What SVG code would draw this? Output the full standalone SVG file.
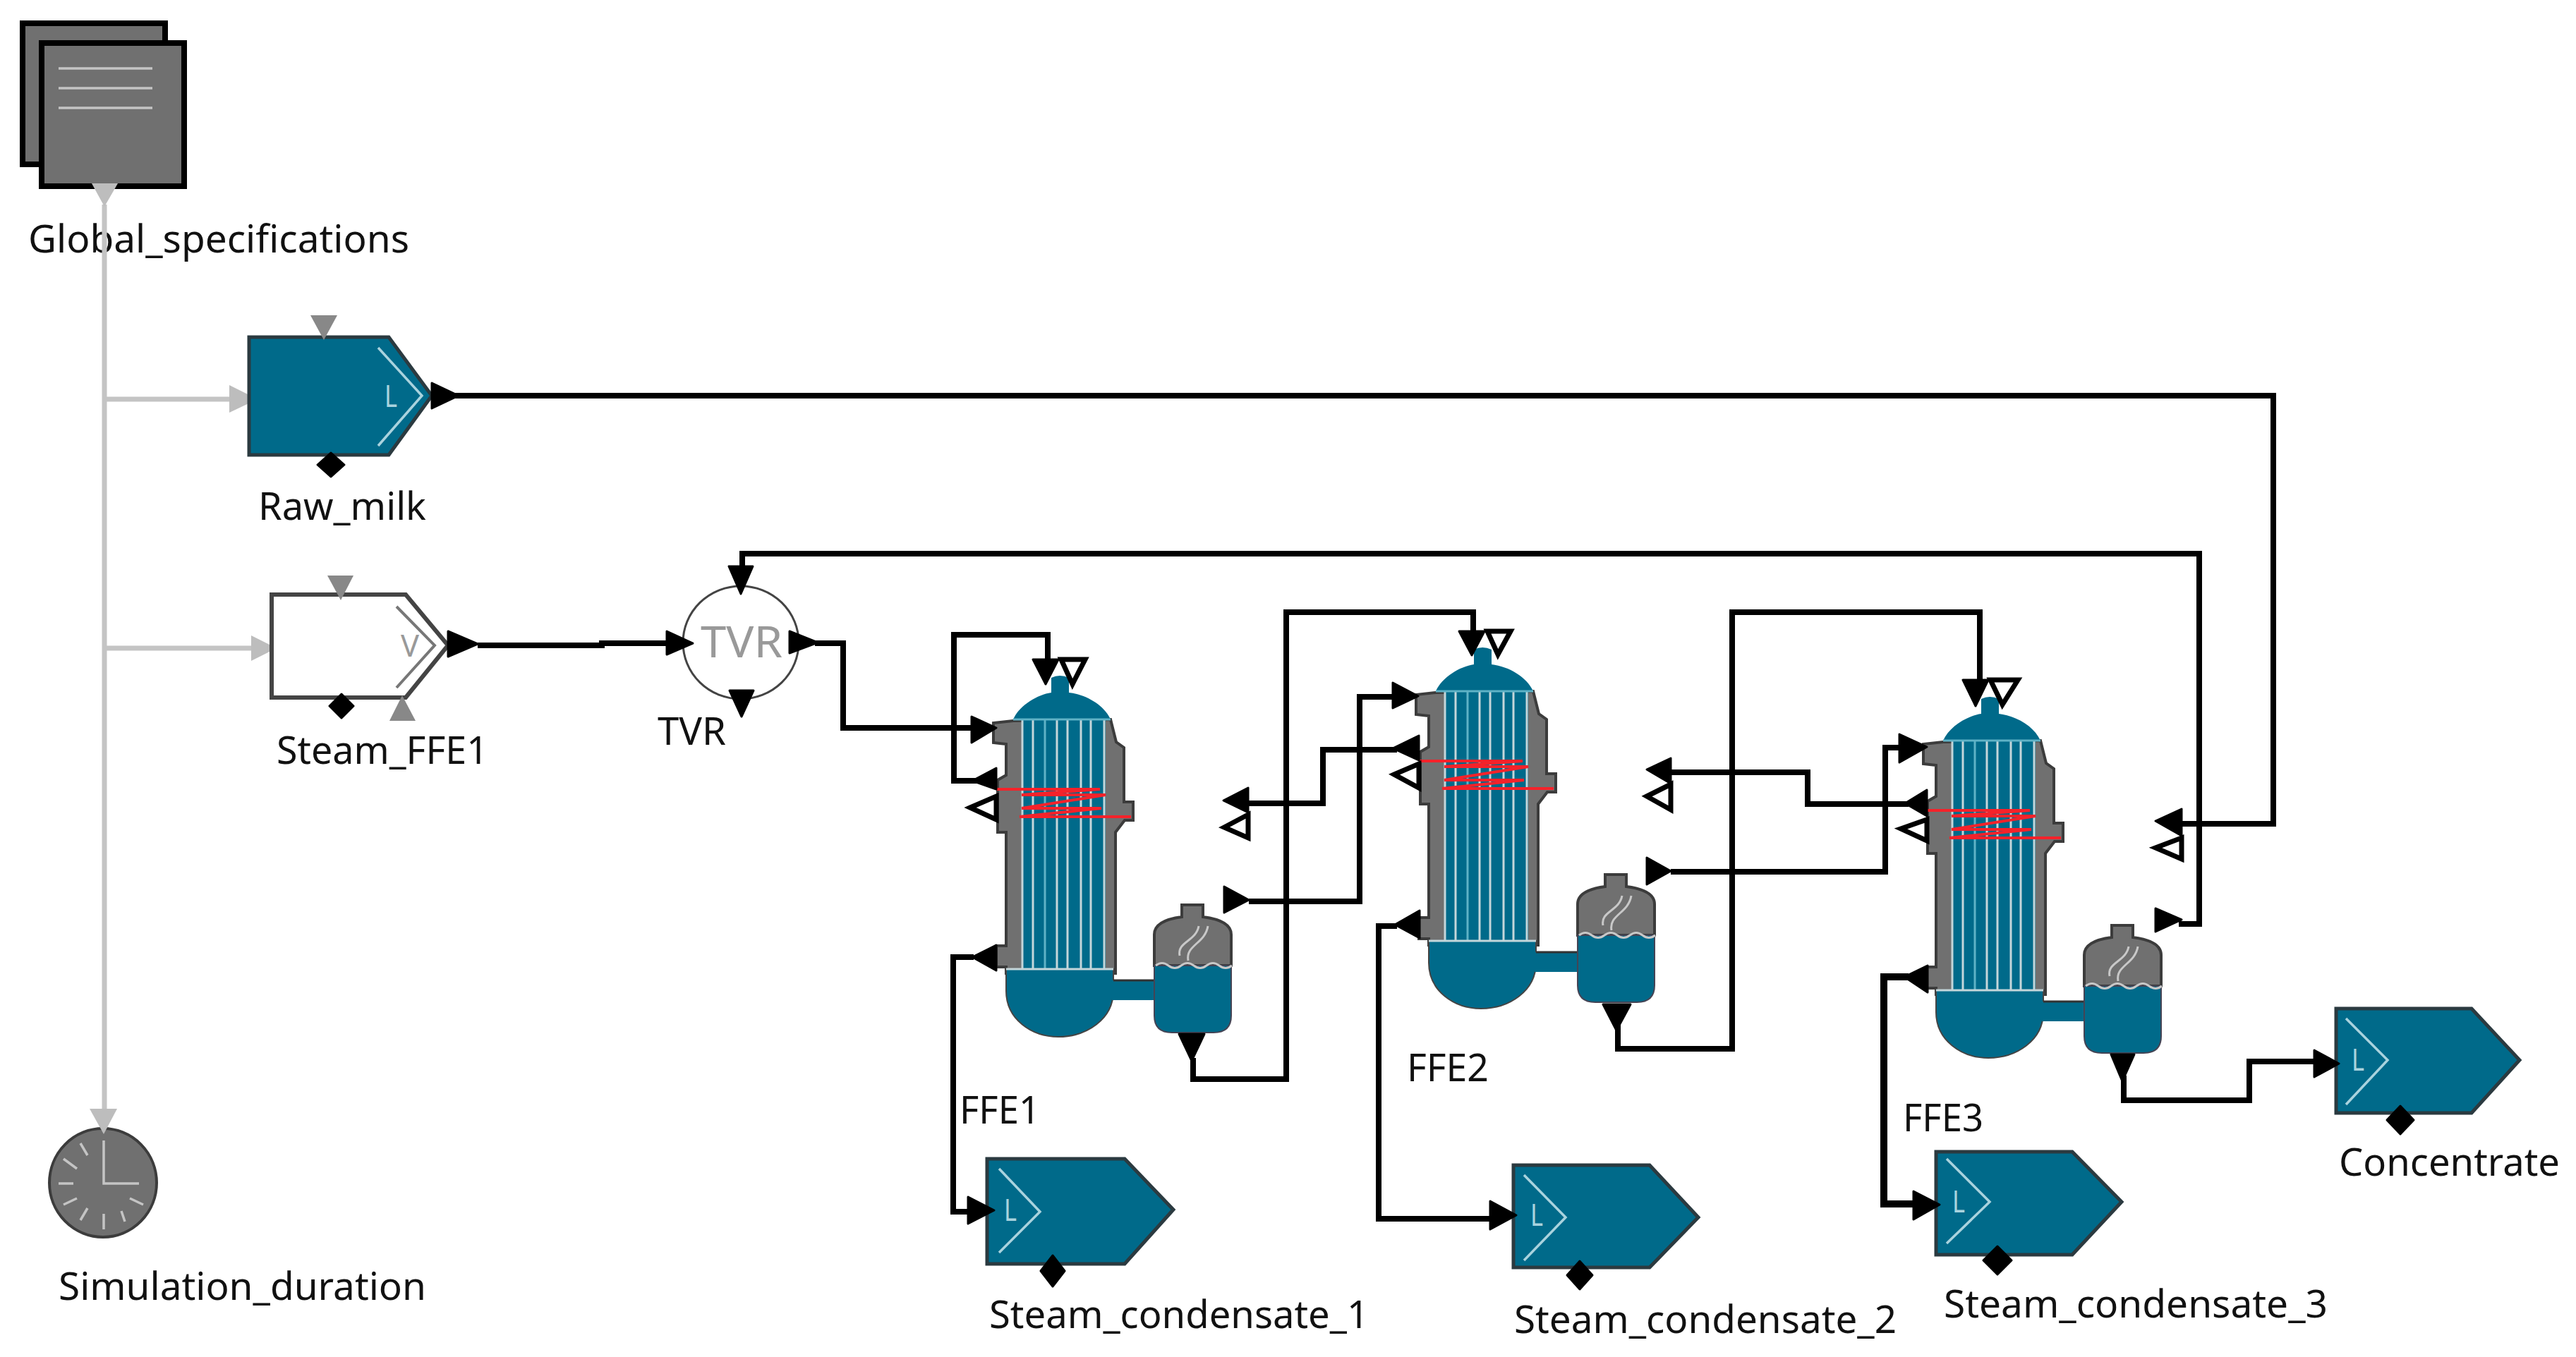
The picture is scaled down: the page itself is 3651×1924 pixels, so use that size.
<svg xmlns="http://www.w3.org/2000/svg" xmlns:xlink="http://www.w3.org/1999/xlink" width="3651" height="1924" viewBox="0 0 3651 1924">
<style>
text{font-family:"Noto Sans","Open Sans","Liberation Sans",sans-serif;font-size:54px;fill:#111}
.teal{fill:#006a8a}
.block{fill:#006a8a;stroke:#2b3a40;stroke-width:5;stroke-linejoin:miter}
.chev{fill:none;stroke:#a9d3de;stroke-width:3.5}
.ltr{font-size:44px;fill:#a9d3de}
.gb{fill:#707070;stroke:#3c3c3c;stroke-width:4;stroke-linejoin:miter}
.tube{stroke:#c4d6da;stroke-width:3;fill:none}
.tube2{stroke:#5fb2c6;stroke-width:3;fill:none}
.red{fill:none;stroke:#f5222a;stroke-width:4}
.wl{fill:none;stroke:#c8c8c8;stroke-width:3}
.port{fill:#000;stroke:#000;stroke-width:3;stroke-linejoin:round}
.oport{fill:#fff;stroke:#000;stroke-width:7;stroke-linejoin:miter}
.gport{fill:#888}
.sig{fill:#bdbdbd}
.line{fill:none;stroke:#000;stroke-width:8;stroke-linejoin:miter}
.thick{stroke-width:10}
.sigl{fill:none;stroke:#c4c4c4;stroke-width:7}
.tk{stroke:#c4c4c4;stroke-width:3.5;fill:none}
</style>
<defs>
<g id="evap">
<path class="gb" d="M1436,1022L1408,1025V1053L1426,1055V1099L1414,1106V1180H1426V1341H1412V1371H1426V1380H1581V1180L1594,1163H1606V1137H1593V1060L1582,1052L1574,1020Z"/>
<path class="teal" d="M1436,1020C1445,1000 1470,985 1490,982V961Q1502,955 1515,961V982C1540,985 1565,1000 1574,1020Z"/>
<rect class="teal" x="1448" y="1020" width="119" height="354"/>
<path class="tube" d="M1449,1020V1374M1464,1020V1374M1498,1020V1374M1513,1020V1374M1532,1020V1374M1546,1020V1374M1565,1020V1374"/>
<path class="tube2" d="M1481,1020V1374M1436,1020H1574"/>
<path class="red" d="M1413,1119H1559L1448,1127H1567L1448,1146H1561L1445,1158H1603"/>
<path class="teal" stroke="#444" stroke-width="2" d="M1426,1374H1578V1405C1578,1445 1540,1470 1500,1470C1462,1470 1426,1445 1426,1405Z"/>
<path class="tube" d="M1426,1374H1578"/>
<rect class="teal" x="1576" y="1390" width="62" height="28"/>
<path d="M1578,1390H1637" stroke="#333" stroke-width="3" fill="none"/>
</g>
<g id="sep">
<path class="gb" d="M1636,1369V1325Q1636,1305 1675,1300V1283H1705V1300Q1745,1305 1745,1325V1369Z"/>
<path class="teal" stroke="#445" stroke-width="2" d="M1636,1369H1745V1440Q1745,1464 1720,1464H1661Q1636,1464 1636,1440Z"/>
<path class="wl" d="M1638,1369q9,-7 18,0t18,0t18,0t18,0t18,0t18,0"/>
<path class="wl" d="M1672,1355C1668,1335 1695,1335 1699,1313M1684,1362C1680,1340 1708,1338 1712,1313"/>
</g>
</defs>
<rect width="3651" height="1924" fill="#fff"/>

<g id="Global_specifications">
<rect class="gb" x="32" y="33" width="202" height="200" style="stroke:#000;stroke-width:8"/>
<rect class="gb" x="59" y="61" width="202" height="203" style="stroke:#000;stroke-width:8"/>
<path class="tk" d="M83,97H216M83,125H216M83,153H216"/>
<text x="40" y="358" textLength="540" lengthAdjust="spacingAndGlyphs">Global_specifications</text>
</g>

<g id="connectors">
<path class="sigl" d="M148,290V1575M148,566H330M148,919H360"/>
<path class="line" d="M645,561H3222V1168H3092"/>
<path class="line" d="M677,915H853V912H950"/>
<path class="line" d="M1052,810V785H3117V1310H3088"/>
<path class="line" d="M1155,912H1195V1032H1385"/>
<path class="line" d="M1485,940V900H1352V1107H1385"/>
<path class="line" d="M1691,1500V1530H1823V868H2088V900"/>
<path class="line" d="M1769,1139H1875V1063H1980"/>
<path class="line" d="M1770,1278H1927V988H1980"/>
<path class="line" d="M1380,1357H1351V1718H1375"/>
<path class="line" d="M2293,1450V1487H2455V868H2806V970"/>
<path class="line" d="M2368,1095H2562V1140H2705"/>
<path class="line" d="M2368,1236H2672V1060H2700"/>
<path class="line" d="M1980,1313H1954V1728H2115"/>
<path class="line thick" d="M2705,1385H2670V1707H2715"/>
<path class="line" d="M3010,1525V1560H3188V1505H3285"/>
</g>

<g id="Raw_milk">
<polygon class="sig" points="325,546 365,566 325,585"/>
<polygon class="block" points="353,478 551,478 612,561 551,645 353,645"/>
<polyline class="chev" points="536,493 598,561 536,632"/>
<text class="ltr" x="545" y="577" textLength="18" lengthAdjust="spacingAndGlyphs">L</text>
<polygon class="gport" points="440,447 478,447 459,482"/>
<polygon class="port" points="469,642 488,659 469,676 450,659"/>
<polygon class="port" points="612,543 650,561 612,579"/>
<text x="366" y="737" textLength="238" lengthAdjust="spacingAndGlyphs">Raw_milk</text>
</g>

<g id="Steam_FFE1">
<polygon class="sig" points="356,901 392,919 356,937"/>
<polygon points="385,843 575,843 635,915 575,989 385,989" fill="#fff" stroke="#444" stroke-width="6"/>
<polyline points="562,860 616,915 562,975" fill="none" stroke="#777" stroke-width="4"/>
<text x="568" y="931" textLength="26" lengthAdjust="spacingAndGlyphs" style="font-size:44px;fill:#999">V</text>
<polygon class="gport" points="464,816 501,816 483,851"/>
<polygon class="port" points="484,984 501,1001 484,1018 467,1001"/>
<polygon class="gport" points="570,986 589,1022 552,1022"/>
<polygon class="port" points="635,895 677,913 635,931"/>
<text x="392" y="1083" textLength="300" lengthAdjust="spacingAndGlyphs">Steam_FFE1</text>
</g>

<g id="TVR">
<ellipse cx="1050" cy="911" rx="82" ry="80" fill="#fff" stroke="#444" stroke-width="3"/>
<text x="993" y="932" textLength="116" lengthAdjust="spacingAndGlyphs" style="font-size:62px;fill:#999">TVR</text>
<polygon class="port" points="945,895 982,912 945,928"/>
<polygon class="port" points="1033,803 1067,803 1050,842"/>
<polygon class="port" points="1034,979 1068,979 1051,1016"/>
<polygon class="port" points="1119,895 1159,911 1119,926"/>
<text x="932" y="1056" textLength="97" lengthAdjust="spacingAndGlyphs">TVR</text>
</g>

<g id="FFE1">
<use href="#evap" xlink:href="#evap"/>
<use href="#sep" xlink:href="#sep"/>
<polygon class="port" points="1464,935 1500,935 1482,970"/>
<polygon class="oport" points="1504,935 1538,935 1520,970"/>
<polygon class="port" points="1377,1016 1412,1032 1377,1053"/>
<polygon class="port" points="1378,1107 1412,1089 1412,1119"/>
<polygon class="oport" points="1375,1145 1412,1129 1412,1162"/>
<polygon class="port" points="1378,1357 1412,1340 1412,1376"/>
<polygon class="port" points="1734,1135 1769,1117 1769,1152"/>
<polygon class="oport" points="1735,1173 1769,1155 1769,1188"/>
<polygon class="port" points="1735,1257 1735,1294 1770,1276"/>
<polygon class="port" points="1671,1466 1707,1466 1689,1504"/>
<text x="1360" y="1593" textLength="114" lengthAdjust="spacingAndGlyphs">FFE1</text>
</g>

<g id="FFE2">
<use href="#evap" xlink:href="#evap" transform="translate(599,-40)"/>
<use href="#sep" xlink:href="#sep" transform="translate(600,-43)"/>
<polygon class="port" points="2068,895 2104,895 2086,929"/>
<polygon class="oport" points="2108,895 2141,895 2123,928"/>
<polygon class="port" points="1974,968 1974,1004 2010,987"/>
<polygon class="port" points="1974,1061 2011,1043 2011,1078"/>
<polygon class="oport" points="1976,1098 2011,1083 2011,1117"/>
<polygon class="port" points="1977,1311 2012,1291 2012,1330"/>
<polygon class="port" points="2334,1091 2368,1075 2368,1111"/>
<polygon class="oport" points="2334,1129 2368,1112 2368,1148"/>
<polygon class="port" points="2334,1216 2334,1254 2368,1235"/>
<polygon class="port" points="2272,1424 2311,1424 2291,1461"/>
<text x="1994" y="1533" textLength="116" lengthAdjust="spacingAndGlyphs">FFE2</text>
</g>

<g id="FFE3">
<use href="#evap" xlink:href="#evap" transform="translate(1318,30)"/>
<use href="#sep" xlink:href="#sep" transform="translate(1318,29)"/>
<polygon class="port" points="2782,964 2818,964 2800,1001"/>
<polygon class="oport" points="2821,964 2860,964 2838,999"/>
<polygon class="port" points="2692,1041 2692,1081 2731,1059"/>
<polygon class="port" points="2700,1139 2731,1120 2731,1157"/>
<polygon class="oport" points="2694,1175 2731,1162 2731,1192"/>
<polygon class="port" points="2699,1385 2732,1369 2732,1407"/>
<polygon class="port" points="3055,1164 3092,1147 3092,1185"/>
<polygon class="oport" points="3055,1202 3092,1188 3092,1218"/>
<polygon class="port" points="3055,1288 3055,1321 3092,1304"/>
<polygon class="port" points="2992,1495 3025,1495 3008,1533"/>
<text x="2697" y="1604" textLength="114" lengthAdjust="spacingAndGlyphs">FFE3</text>
</g>

<g id="Concentrate">
<polygon class="block" points="3311,1430 3503,1430 3571,1503 3503,1578 3311,1578"/>
<polyline class="chev" points="3325,1444 3384,1503 3325,1566"/>
<text class="ltr" x="3333" y="1518" textLength="18" lengthAdjust="spacingAndGlyphs">L</text>
<polygon class="port" points="3280,1489 3315,1508 3280,1527"/>
<polygon class="port" points="3402,1568 3421,1588 3402,1608 3383,1588"/>
<text x="3315" y="1667" textLength="313" lengthAdjust="spacingAndGlyphs">Concentrate</text>
</g>

<g id="Steam_condensate_1">
<polygon class="block" points="1399,1643 1594,1643 1663,1715 1594,1792 1399,1792"/>
<polyline class="chev" points="1416,1657 1474,1718 1416,1776"/>
<text class="ltr" x="1423" y="1731" textLength="18" lengthAdjust="spacingAndGlyphs">L</text>
<polygon class="port" points="1372,1697 1409,1716 1372,1735"/>
<polygon class="port" points="1492,1780 1509,1802 1492,1824 1475,1802"/>
<text x="1402" y="1883" textLength="538" lengthAdjust="spacingAndGlyphs">Steam_condensate_1</text>
</g>

<g id="Steam_condensate_2">
<polygon class="block" points="2145,1652 2338,1652 2407,1726 2338,1797 2145,1797"/>
<polyline class="chev" points="2160,1666 2219,1726 2160,1787"/>
<text class="ltr" x="2169" y="1738" textLength="18" lengthAdjust="spacingAndGlyphs">L</text>
<polygon class="port" points="2112,1703 2149,1723 2112,1743"/>
<polygon class="port" points="2239,1788 2257,1808 2239,1828 2221,1808"/>
<text x="2146" y="1890" textLength="542" lengthAdjust="spacingAndGlyphs">Steam_condensate_2</text>
</g>

<g id="Steam_condensate_3">
<polygon class="block" points="2744,1633 2937,1633 3007,1704 2937,1779 2744,1779"/>
<polyline class="chev" points="2759,1643 2820,1704 2759,1763"/>
<text class="ltr" x="2767" y="1719" textLength="18" lengthAdjust="spacingAndGlyphs">L</text>
<polygon class="port" points="2712,1689 2749,1708 2712,1729"/>
<polygon class="port" points="2831,1767 2851,1787 2831,1807 2811,1787"/>
<text x="2755" y="1868" textLength="544" lengthAdjust="spacingAndGlyphs">Steam_condensate_3</text>
</g>

<g id="Simulation_duration">
<ellipse class="gb" cx="146" cy="1677" rx="76" ry="77"/>
<path class="tk" d="M147,1617V1678H197M114,1621L124,1638M90,1643L109,1657M83,1678H104M90,1708L109,1699M114,1730L124,1713M147,1721V1743M172,1717L177,1732M184,1699L203,1708"/>
<polygon class="sig" points="127,1572 166,1572 147,1608"/>
<text x="83" y="1843" textLength="521" lengthAdjust="spacingAndGlyphs">Simulation_duration</text>
</g>

<g id="Global_specifications_port">
<polygon class="sig" points="130,260 167,260 148,293"/>
</g>
</svg>
